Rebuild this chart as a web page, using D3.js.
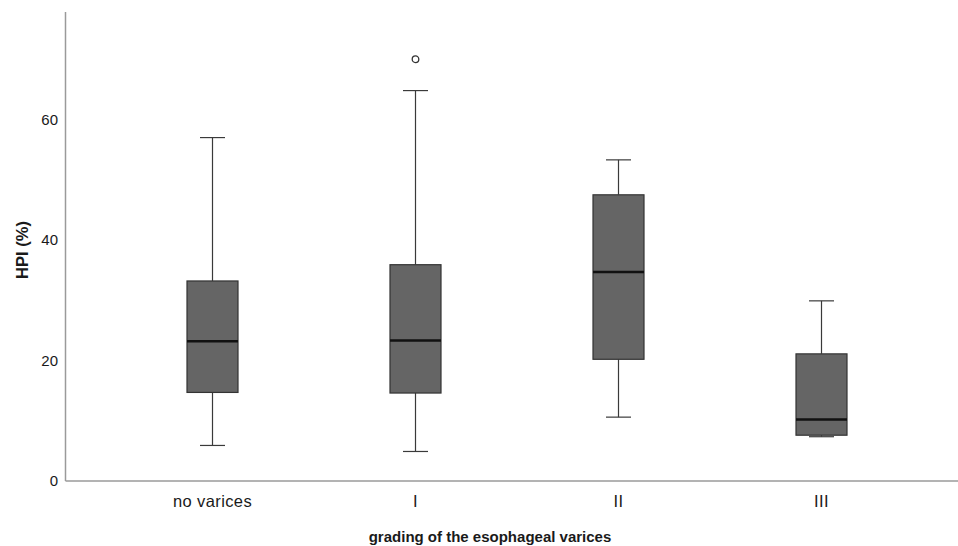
<!DOCTYPE html>
<html>
<head>
<meta charset="utf-8">
<script src="https://cdn.jsdelivr.net/npm/d3@7"></script>
<style>
  html, body { margin: 0; padding: 0; background: #fff; overflow: hidden; }
  svg { display: block; }
  text { font-family: "Liberation Sans", Arial, sans-serif; fill: #1a1a1a; }
</style>
</head>
<body>
<svg id="chart" width="958" height="546"></svg>
<script>
// ---- data ----
const categories = ["no varices", "I", "II", "III"];
const whiskerLow  = [5.9, 4.9, 10.6, 7.35];
const q1          = [14.7, 14.6, 20.2, 7.6];
const median      = [23.2, 23.3, 34.7, 10.2];
const q3          = [33.2, 35.9, 47.5, 21.1];
const whiskerHigh = [57.0, 64.8, 53.3, 29.9];
const outliers    = [[], [70.0], [], []];
const yTicks      = [0, 20, 40, 60];
const yLabel = "HPI (%)";
const xLabel = "grading of the esophageal varices";

// ---- layout ----
const svg = d3.select("#chart");
const axisX = 65.5, axisY = 481, axisTop = 12;

const y = d3.scaleLinear().domain([0, 60]).range([481, 119.5]);
const x = d3.scaleBand().domain(categories).range([111, 923]).padding(0);
const boxW = 51, capW = 25;

// axes lines
svg.append("line").attr("x1", axisX).attr("x2", 958).attr("y1", axisY).attr("y2", axisY)
  .attr("stroke", "#9a9a9a").attr("stroke-width", 1.5);
svg.append("line").attr("x1", axisX).attr("x2", axisX).attr("y1", axisTop).attr("y2", axisY)
  .attr("stroke", "#9a9a9a").attr("stroke-width", 1.5);

// y tick labels (no tick marks)
svg.append("g").selectAll("text").data(yTicks).join("text")
  .attr("x", 58).attr("y", d => y(d)).attr("dy", "0.36em")
  .attr("text-anchor", "end").attr("font-size", 15).text(d => d);

// x tick labels
svg.append("g").selectAll("text").data(categories).join("text")
  .attr("x", d => x(d) + x.bandwidth() / 2).attr("y", 507)
  .attr("text-anchor", "middle").attr("font-size", 16.5).attr("letter-spacing", "0.4px")
  .text(d => d);

// axis titles
svg.append("text").attr("transform", "translate(28,250) rotate(-90)")
  .attr("text-anchor", "middle").attr("font-size", 16.5).attr("font-weight", "bold").text(yLabel);
svg.append("text").attr("x", 490).attr("y", 542)
  .attr("text-anchor", "middle").attr("font-size", 15).attr("font-weight", "bold").text(xLabel);

// boxes
const g = svg.append("g").selectAll("g").data(categories).join("g")
  .attr("transform", d => `translate(${x(d) + x.bandwidth() / 2},0)`);

const wc = "#3a3a3a";
// whiskers
g.append("line").attr("x1", 0).attr("x2", 0)
  .attr("y1", (d, i) => y(q3[i])).attr("y2", (d, i) => y(whiskerHigh[i]))
  .attr("stroke", wc).attr("stroke-width", 1.2);
g.append("line").attr("x1", 0).attr("x2", 0)
  .attr("y1", (d, i) => y(q1[i])).attr("y2", (d, i) => y(whiskerLow[i]))
  .attr("stroke", wc).attr("stroke-width", 1.2);
// caps
g.append("line").attr("x1", -capW / 2).attr("x2", capW / 2)
  .attr("y1", (d, i) => y(whiskerHigh[i])).attr("y2", (d, i) => y(whiskerHigh[i]))
  .attr("stroke", wc).attr("stroke-width", 1.2);
g.append("line").attr("x1", -capW / 2).attr("x2", capW / 2)
  .attr("y1", (d, i) => y(whiskerLow[i])).attr("y2", (d, i) => y(whiskerLow[i]))
  .attr("stroke", wc).attr("stroke-width", 1.2);
// box
g.append("rect").attr("x", -boxW / 2).attr("width", boxW)
  .attr("y", (d, i) => y(q3[i])).attr("height", (d, i) => y(q1[i]) - y(q3[i]))
  .attr("fill", "#656565").attr("stroke", "#333").attr("stroke-width", 1.2);
// median
g.append("line").attr("x1", -boxW / 2).attr("x2", boxW / 2)
  .attr("y1", (d, i) => y(median[i])).attr("y2", (d, i) => y(median[i]))
  .attr("stroke", "#111").attr("stroke-width", 2.5);
// outliers
g.each(function (d, i) {
  d3.select(this).selectAll("circle").data(outliers[i]).join("circle")
    .attr("cx", 0).attr("cy", v => y(v)).attr("r", 3.3)
    .attr("fill", "none").attr("stroke", "#333").attr("stroke-width", 1.3);
});
</script>
</body>
</html>
